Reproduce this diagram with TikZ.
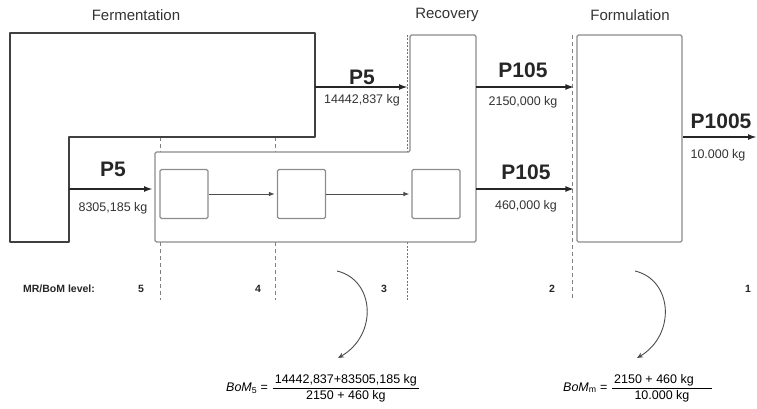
\documentclass[tikz,border=0pt]{standalone}
\usepackage{amsmath}
\usepackage{fontspec}
\setmainfont{Liberation Sans}
\usetikzlibrary{arrows.meta}
\begin{document}
\begin{tikzpicture}[x=1pt,y=-1pt,
  frame/.style={draw=black!75, line width=1.6pt, line join=round},
  box/.style={draw=black!45, line width=1.2pt, rounded corners=1.5pt},
  smallbox/.style={box, minimum width=48pt, minimum height=49pt, inner sep=0pt},
  flow/.style={draw=black!85, line width=2pt, -{Latex[length=9pt,width=6pt]}},
  innerflow/.style={draw=black!70, line width=0.9pt, -{Latex[length=6pt,width=4.5pt]}},
  sep/.style={draw=black!50, line width=0.8pt, dash pattern=on 4pt off 3pt},
  sepdense/.style={draw=black!55, line width=1pt, dash pattern=on 2pt off 1.5pt},
  stage/.style={font=\fontsize{15}{17}\selectfont, text=black!80},
  plabel/.style={font=\bfseries\fontsize{21}{23}\selectfont, text=black!85},
  mass/.style={font=\fontsize{12.5}{14}\selectfont, text=black!80},
  level/.style={font=\bfseries\fontsize{10.5}{12}\selectfont, text=black!85},
  bendarrow/.style={draw=black!70, line width=0.9pt, -{Stealth[length=6pt,width=5pt]}},
  formula/.style={font=\fontsize{12.5}{15}\selectfont, inner sep=0pt, anchor=west}]
\useasboundingbox (0,0) rectangle (757,409);

% stage titles
\node[stage] (tferm) at (136,15) {Fermentation};
\node[stage] (trec) at (447,15) {Recovery};
\node[stage] (tform) at (630,15) {Formulation};

% dashed level separators
\draw[sep] (160,137) -- (160,152);
\draw[sep] (160,242) -- (160,300);
\draw[sep] (275,137) -- (275,152);
\draw[sep] (275,242) -- (275,300);
\draw[sepdense] (407,35) -- (407,152);
\draw[sepdense] (407,242) -- (407,300);
\draw[sep] (572,35) -- (572,300);

% fermentation outline
\draw[frame] (10,33) -- (315,33) -- (315,137) -- (69,137) -- (69,242) -- (10,242) -- cycle;
\coordinate (fout1) at (315,87);
\coordinate (fout2) at (69,189);

% recovery outline
\draw[box] (155,152) -- (410,152) -- (410,35) -- (476,35) -- (476,242) -- (155,242) -- cycle;
\coordinate (recin1) at (410,87);
\coordinate (recin2) at (155,189);
\coordinate (recout1) at (476,87);
\coordinate (recout2) at (476,189);

% inner unit boxes
\node[smallbox] (u1) at (184,194) {};
\node[smallbox] (u2) at (301.5,194) {};
\node[smallbox] (u3) at (436,194) {};
\draw[innerflow, shorten >=2pt] (u1.east) -- (u2.west);
\draw[innerflow, shorten >=2pt] (u2.east) -- (u3.west);

% formulation box
\node[box, minimum width=105pt, minimum height=207pt, inner sep=0pt] (form) at (629.5,138.5) {};
\coordinate (prodend) at (757,137);

% flows
\draw[flow, shorten >=2pt] (fout1) -- (recin1);
\draw[flow, shorten >=2pt] (fout2) -- (recin2);
\draw[flow, shorten >=2pt] (recout1) -- (form.west |- recout1);
\draw[flow, shorten >=2pt] (recout2) -- (form.west |- recout2);
\draw[flow] (form.east |- prodend) -- (prodend);

% flow labels
\node[plabel] (p5a) at (362,77) {P5};
\node[mass] (m5a) at (362,100) {14442,837 kg};
\node[plabel] (p5b) at (113,169) {P5};
\node[mass] (m5b) at (113,208) {8305,185 kg};
\node[plabel] (p105a) at (523,70) {P105};
\node[mass] (m105a) at (523,102) {2150,000 kg};
\node[plabel] (p105b) at (526,172) {P105};
\node[mass] (m105b) at (526,206) {460,000 kg};
\node[plabel] (p1005) at (721,121) {P1005};
\node[mass] (m1005) at (718,155) {10.000 kg};

% level labels
\node[level] (lvl) at (59,289) {MR/BoM level:};
\node[level] (l5) at (141,289) {5};
\node[level] (l4) at (258,289) {4};
\node[level] (l3) at (384,289) {3};
\node[level] (l2) at (552,289) {2};
\node[level] (l1) at (748,289) {1};

% curved arrows
\coordinate (c1s) at (337,271);
\coordinate (c1e) at (338,358);
\coordinate (c2s) at (635,271);
\coordinate (c2e) at (637,358);
\draw[bendarrow] (c1s) .. controls (375,280) and (378,335) .. (c1e);
\draw[bendarrow] (c2s) .. controls (673,280) and (676,335) .. (c2e);

% formulas
\node[formula] (f1) at (226,388) {\textit{BoM}\textsubscript{5} = $\dfrac{\text{\,14442,837+83505,185 kg\,}}{\text{2150 + 460 kg}}$};
\node[formula] (f2) at (563,388) {\textit{BoM}\textsubscript{m} = $\dfrac{\text{\,2150 + 460 kg\hspace{18pt}}}{\text{10.000 kg}}$};
\end{tikzpicture}
\end{document}
